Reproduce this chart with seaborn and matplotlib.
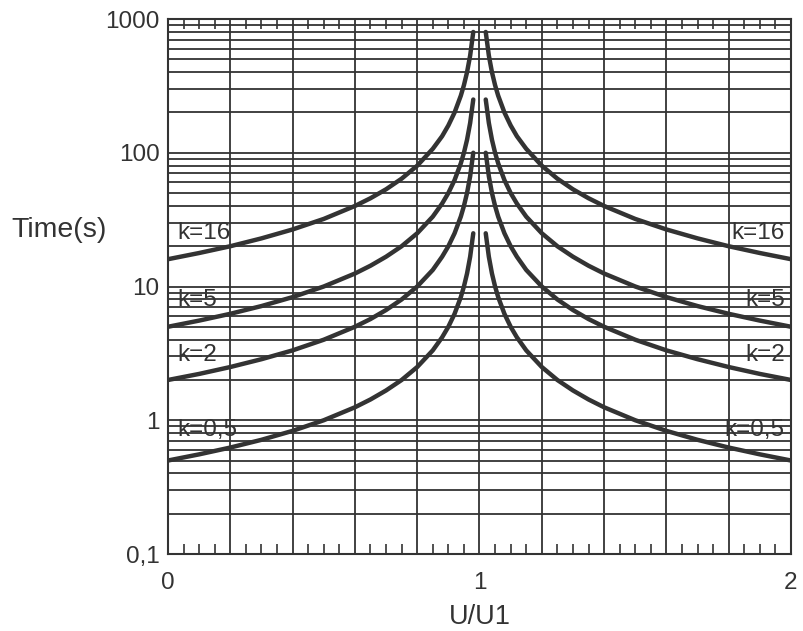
import numpy as np
import pandas as pd
import matplotlib
matplotlib.use("Agg")
import matplotlib.pyplot as plt
import seaborn as sns
from matplotlib.ticker import FixedLocator, LogLocator, NullFormatter, FixedFormatter

u_left = [0, 0.1, 0.2, 0.3, 0.4, 0.5, 0.6, 0.65, 0.7, 0.75, 0.8, 0.85, 0.88, 0.9,
          0.92, 0.94, 0.95, 0.96, 0.97, 0.98]
u_right = [2.0, 1.9, 1.8, 1.7, 1.6, 1.5, 1.4, 1.35, 1.3, 1.25, 1.2, 1.15, 1.12, 1.1,
           1.08, 1.06, 1.05, 1.04, 1.03, 1.02]

# trip time (s) for each curve, same values on both branches
t_k16 = [16, 17.8, 20, 22.9, 26.7, 32, 40, 45.7, 53.3, 64, 80, 107, 133, 160,
         200, 267, 320, 400, 533, 800]
t_k5 = [5, 5.56, 6.25, 7.14, 8.33, 10, 12.5, 14.3, 16.7, 20, 25, 33.3, 41.7, 50,
        62.5, 83.3, 100, 125, 167, 250]
t_k2 = [2, 2.22, 2.5, 2.86, 3.33, 4, 5, 5.71, 6.67, 8, 10, 13.3, 16.7, 20,
        25, 33.3, 40, 50, 66.7, 100]
t_k05 = [0.5, 0.556, 0.625, 0.714, 0.833, 1, 1.25, 1.43, 1.67, 2, 2.5, 3.33, 4.17, 5,
         6.25, 8.33, 10, 12.5, 16.7, 25]

curve_names = ["k=16", "k=5", "k=2", "k=0,5"]
curve_times = [t_k16, t_k5, t_k2, t_k05]
label_y = [25, 7.9, 3.1, 0.85]

ink = "#333333"
sns.set_style("white")
plt.rcParams["font.family"] = ["Liberation Sans", "DejaVu Sans"]

rows = []
for name, times in zip(curve_names, curve_times):
    for side, us in (("left", u_left), ("right", u_right)):
        for u, t in zip(us, times):
            rows.append({"curve": name, "side": side, "u": u, "t": t})
df = pd.DataFrame(rows)

fig = plt.figure(figsize=(8.04, 6.31), dpi=100)
ax = fig.add_axes([168 / 804, 1 - 554 / 631, 623 / 804, 535 / 631])

for (name, side), part in df.groupby(["curve", "side"], sort=False):
    sns.lineplot(data=part, x="u", y="t", ax=ax, color=ink, lw=3.2,
                 sort=False, estimator=None, legend=False)

ax.set_yscale("log")
ax.set_xlim(0, 2)
ax.set_ylim(0.1, 1000)

# x: gridlines every 0.2, labels only at 0, 1, 2, small inward ticks every 0.05
xmaj = [round(0.2 * i, 1) for i in range(11)]
ax.xaxis.set_major_locator(FixedLocator(xmaj))
ax.xaxis.set_major_formatter(FixedFormatter(["0", "", "", "", "", "1", "", "", "", "", "2"]))
ax.xaxis.set_minor_locator(FixedLocator([x / 100 for x in range(0, 201, 5) if x % 20 != 0]))
ax.tick_params(axis="x", which="major", length=0, pad=13, labelsize=17.5, labelcolor=ink)
ax.tick_params(axis="x", which="minor", direction="in", length=7, width=1.2,
               color=ink, top=True, bottom=True)

# y: log grid with minor lines
ax.yaxis.set_major_locator(FixedLocator([0.1, 1, 10, 100, 1000]))
ax.yaxis.set_major_formatter(FixedFormatter(["0,1", "1", "10", "100", "1000"]))
ax.yaxis.set_minor_locator(LogLocator(base=10, subs=np.arange(2, 10)))
ax.yaxis.set_minor_formatter(NullFormatter())
ax.tick_params(axis="y", which="both", length=0, pad=6, labelsize=17.5, labelcolor=ink)

ax.grid(True, which="major", axis="x", color=ink, lw=1.3)
ax.grid(True, which="both", axis="y", color=ink, lw=1.3)
for s in ax.spines.values():
    s.set_color(ink)
    s.set_linewidth(1.5)

for name, yv in zip(curve_names, label_y):
    ax.text(0.03, yv, name, fontsize=17.5, color=ink, ha="left", va="center")
    ax.text(1.98, yv, name, fontsize=17.5, color=ink, ha="right", va="center")

ax.set_xlabel("U/U1", fontsize=19.5, color=ink, labelpad=7)
ax.set_ylabel("Time(s)", fontsize=20.5, color=ink, rotation=0, ha="right", va="center")
ax.yaxis.set_label_coords(-0.098, 0.606)

fig.savefig("out.png", dpi=100)
